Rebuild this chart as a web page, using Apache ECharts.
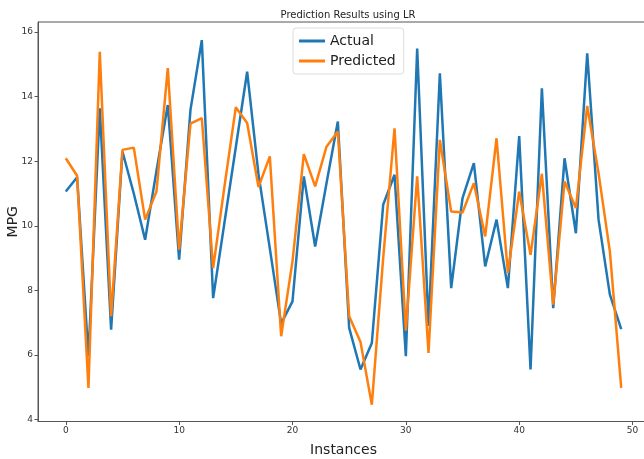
<!DOCTYPE html>
<html>
<head>
<meta charset="utf-8">
<script src="https://cdn.jsdelivr.net/npm/echarts@6/dist/echarts.min.js"></script>
<style>html,body{margin:0;padding:0;background:#fff;}#c{width:644px;height:459px;}</style>
</head>
<body>
<div id="c"></div>
<script>
var titleText = 'Prediction Results using LR';
var seriesNames = ['Actual', 'Predicted'];
var xTicks = [0, 10, 20, 30, 40, 50];
var yTicks = [4, 6, 8, 10, 12, 14, 16];
var actual = [11.06, 11.5, 5.96, 13.64, 6.78, 12.3, 11.0, 9.57, 11.7, 13.74,
  8.95, 13.59, 15.75, 7.76, 10.1, 12.43, 14.77, 11.6, 9.3, 6.97,
  7.66, 11.53, 9.36, 11.32, 13.23, 6.84, 5.55, 6.37, 10.65, 11.58,
  5.96, 15.49, 6.9, 14.72, 8.07, 10.86, 11.94, 8.74, 10.19, 8.07,
  12.78, 5.55, 14.26, 7.45, 12.09, 9.77, 15.34, 10.19, 7.87, 6.8];
var predicted = [12.09, 11.55, 4.98, 15.39, 7.2, 12.35, 12.42, 10.19, 11.06, 14.88,
  9.26, 13.16, 13.33, 8.69, 11.22, 13.67, 13.18, 11.2, 12.15, 6.58,
  8.9, 12.22, 11.22, 12.45, 12.92, 7.2, 6.4, 4.46, 9.0, 13.02,
  6.75, 11.53, 6.06, 12.66, 10.44, 10.41, 11.32, 9.67, 12.71, 8.54,
  11.06, 9.1, 11.61, 7.56, 11.37, 10.55, 13.71, 11.63, 9.2, 4.98];

function pairs(arr) { return arr.map(function (v, i) { return [i, v]; }); }

var chart = echarts.init(document.getElementById('c'));
var font = 'DejaVu Sans';
chart.setOption({
  animation: false,
  backgroundColor: '#fff',
  title: {
    text: titleText, left: 343, top: 5, textAlign: 'center',
    textStyle: { fontFamily: font, fontSize: 10, fontWeight: 'normal', color: '#222' }
  },
  legend: {
    orient: 'vertical', left: 293, top: 28,
    data: seriesNames,
    icon: 'rect', itemWidth: 26, itemHeight: 3, itemGap: 6,
    padding: [6, 8, 6, 6],
    borderColor: '#ddd', borderWidth: 1, borderRadius: 3,
    textStyle: { fontFamily: font, fontSize: 14, color: '#222' }
  },
  grid: { left: 38, top: 22, right: -5, bottom: 37.5, show: true, borderColor: '#555', borderWidth: 1,
    containLabel: false, outerBoundsMode: 'none' },
  xAxis: {
    type: 'value', min: -2.45, max: 51.45,
    name: 'Instances', nameLocation: 'middle', nameGap: 22,
    nameTextStyle: { fontFamily: font, fontSize: 14, color: '#222' },
    axisLine: { onZero: false, lineStyle: { color: '#555' } },
    axisTick: { show: true, customValues: xTicks, length: 3.5, lineStyle: { color: '#555' } },
    axisLabel: { customValues: xTicks, fontFamily: font, fontSize: 9, color: '#333', margin: 5 },
    splitLine: { show: false }
  },
  yAxis: {
    type: 'value', min: 3.94, max: 16.31,
    name: 'MPG', nameLocation: 'middle', nameGap: 18, nameRotate: 90, nameMoveOverlap: false,
    nameTextStyle: { fontFamily: font, fontSize: 14, color: '#222' },
    axisLine: { show: true, onZero: false, lineStyle: { color: '#555' } },
    axisTick: { show: true, customValues: yTicks, length: 3.5, lineStyle: { color: '#555' } },
    axisLabel: { customValues: yTicks, fontFamily: font, fontSize: 9, color: '#333', margin: 5 },
    splitLine: { show: false }
  },
  series: [
    { name: seriesNames[0], type: 'line', data: pairs(actual), symbol: 'none',
      lineStyle: { width: 2.5, color: '#1f77b4' }, itemStyle: { color: '#1f77b4' } },
    { name: seriesNames[1], type: 'line', data: pairs(predicted), symbol: 'none',
      lineStyle: { width: 2.5, color: '#ff7f0e' }, itemStyle: { color: '#ff7f0e' } }
  ]
});
</script>
</body>
</html>
